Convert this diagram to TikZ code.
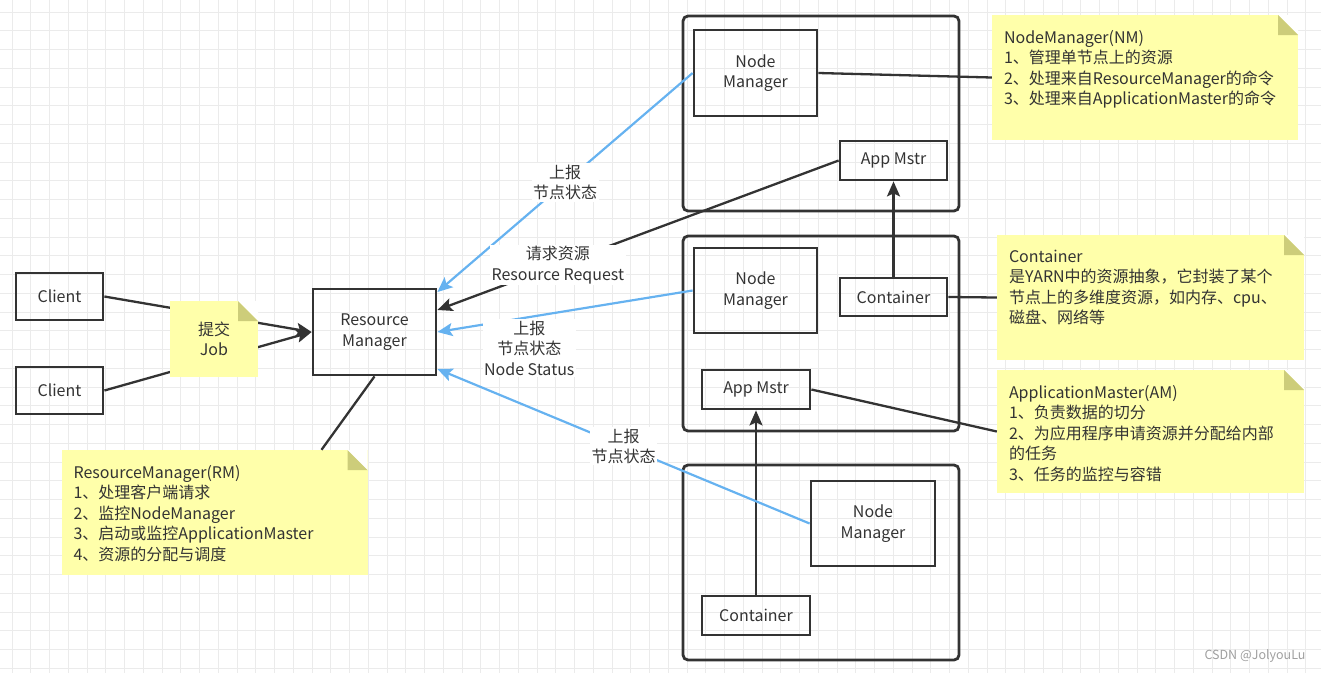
\documentclass[tikz,border=0pt]{standalone}
\usepackage{fontspec}
\setmainfont{Noto Sans CJK SC}
\usetikzlibrary{arrows.meta}

\definecolor{ink}{HTML}{333333}
\definecolor{notefill}{HTML}{FFFFAA}
\definecolor{notefold}{HTML}{CDCD7A}
\definecolor{report}{HTML}{66B2F0}
\definecolor{gridgray}{HTML}{EBEBEB}

\begin{document}
\begin{tikzpicture}
    [
        x=1pt, y=-1pt,
        font=\fontsize{16}{20.5}\selectfont, text=ink,
        GridLine/.style={draw=gridgray, line width=0.8pt},
        Box/.style={rectangle, draw=ink, line width=2.8pt, align=center},
        Frame/.style={rectangle, draw=ink, line width=2.8pt, rounded corners=5pt, minimum width=276pt, minimum height=195pt},
        Note/.style={rectangle, fill=notefill, inner sep=0pt, align=center,
            path picture={
                \fill[white] ([xshift=-20pt]path picture bounding box.north east) -- (path picture bounding box.north east)
                    -- ([yshift=-20pt]path picture bounding box.north east) -- cycle;
                \fill[notefold] ([xshift=-20pt]path picture bounding box.north east) -- ([xshift=-20pt,yshift=-20pt]path picture bounding box.north east)
                    -- ([yshift=-20pt]path picture bounding box.north east) -- cycle;}},
        NoteText/.style={anchor=north west, align=left, inner sep=0pt},
        Tag/.style={fill=white, align=center, inner sep=1.5pt},
        Link/.style={draw=ink, line width=2.3pt},
        Push/.style={Link, -{Stealth[length=15pt,width=13pt,inset=3pt]}},
        Report/.style={draw=report, line width=2.2pt, -{Stealth[length=15pt,width=13pt,inset=3pt]}},
        Mark/.style={font=\fontsize{12.5}{15}\selectfont, text=gray!75}
    ]
    \useasboundingbox (0,0) rectangle (1321,673);

    % background grid
    \foreach \gx in {12,30.75,...,1321}
        \draw[GridLine] (\gx,0) -- (\gx,673);
    \foreach \gy in {12,30.75,...,673}
        \draw[GridLine] (0,\gy) -- (1321,\gy);

    % clients and resource manager
    \node[Box, minimum width=87pt, minimum height=47pt] (Client1) at (59.5,296.5) {Client};
    \node[Box, minimum width=87pt, minimum height=47pt] (Client2) at (59.5,390.5) {Client};
    \node[Box, minimum width=123pt, minimum height=86pt] (RM) at (374.5,332) {Resource\\Manager};

    \draw[Push] (Client1.east) -- (RM.west);
    \draw[Push] (Client2.east) -- (RM.west);
    \node[Note, minimum width=88pt, minimum height=76pt] (JobNote) at (214,339) {提交\\Job};

    % three machines
    \node[Frame] (Frame1) at (821,113.5) {};
    \node[Frame] (Frame2) at (821,333.5) {};
    \node[Frame] (Frame3) at (821,562.5) {};

    \node[Box, minimum width=123pt, minimum height=86pt] (NM1) at (755.5,73) {Node\\Manager};
    \node[Box, minimum width=107pt, minimum height=39pt] (AM1) at (893.5,160.5) {App Mstr};
    \node[Box, minimum width=123pt, minimum height=85pt] (NM2) at (755.5,290.5) {Node\\Manager};
    \node[Box, minimum width=107pt, minimum height=38pt] (Cont2) at (893.5,297) {Container};
    \node[Box, minimum width=108pt, minimum height=39pt] (AM2) at (756,389.5) {App Mstr};
    \node[Box, minimum width=124pt, minimum height=85pt] (NM3) at (873,523.5) {Node\\Manager};
    \node[Box, minimum width=108pt, minimum height=39pt] (Cont3) at (756,615.5) {Container};

    \draw[Push] (Cont2.north) -- (AM1.south);
    \draw[Push] (Cont3.north) -- (AM2.south);

    % status reports and resource request
    \draw[Report] (NM1.west) -- node[Tag] (ReportTop) {上报\\节点状态} ([yshift=40pt]RM.east);
    \draw[Push] (AM1.west) -- node[Tag, pos=0.7] (RequestTag) {请求资源\\Resource Request} ([yshift=22pt]RM.east);
    \draw[Report] (NM2.west) -- node[Tag, pos=0.64, yshift=-31pt] (ReportMid) {上报\\节点状态\\Node Status} (RM.east);
    \draw[Report] (NM3.west) -- node[Tag] (ReportLow) {上报\\节点状态} ([yshift=-37pt]RM.east);

    % notes
    \node[Note, minimum width=306pt, minimum height=125pt] (RMNote) at (214.5,512.5) {};
    \node[NoteText] (RMText) at ([xshift=12pt,yshift=-15pt]RMNote.north west) {ResourceManager(RM)\\1、处理客户端请求\\2、监控NodeManager\\3、启动或监控ApplicationMaster\\4、资源的分配与调度};
    \node[Note, minimum width=306pt, minimum height=125pt] (NMNote) at (1145,77.5) {};
    \node[NoteText] (NMText) at ([xshift=12pt,yshift=-15pt]NMNote.north west) {NodeManager(NM)\\1、管理单节点上的资源\\2、处理来自ResourceManager的命令\\3、处理来自ApplicationMaster的命令};
    \node[Note, minimum width=307pt, minimum height=125pt] (ContNote) at (1150.5,297.5) {};
    \node[NoteText] (ContText) at ([xshift=12pt,yshift=-15pt]ContNote.north west) {Container\\是YARN中的资源抽象，它封装了某个\\节点上的多维度资源，如内存、cpu、\\磁盘、网络等};
    \node[Note, minimum width=307pt, minimum height=123pt] (AMNote) at (1150.5,431.5) {};
    \node[NoteText] (AMText) at ([xshift=12pt,yshift=-15pt]AMNote.north west) {ApplicationMaster(AM)\\1、负责数据的切分\\2、为应用程序申请资源并分配给内部\\的任务\\3、任务的监控与容错};

    \draw[Link] (RM.south) -- ([xshift=107pt]RMNote.north);
    \draw[Link] (NM1.east) -- (NMNote.west);
    \draw[Link] (Cont2.east) -- (ContNote.west);
    \draw[Link] (AM2.east) -- (AMNote.west);

    \node[Mark] (Watermark) at (1255,656) {CSDN @JolyouLu};
\end{tikzpicture}
\end{document}
